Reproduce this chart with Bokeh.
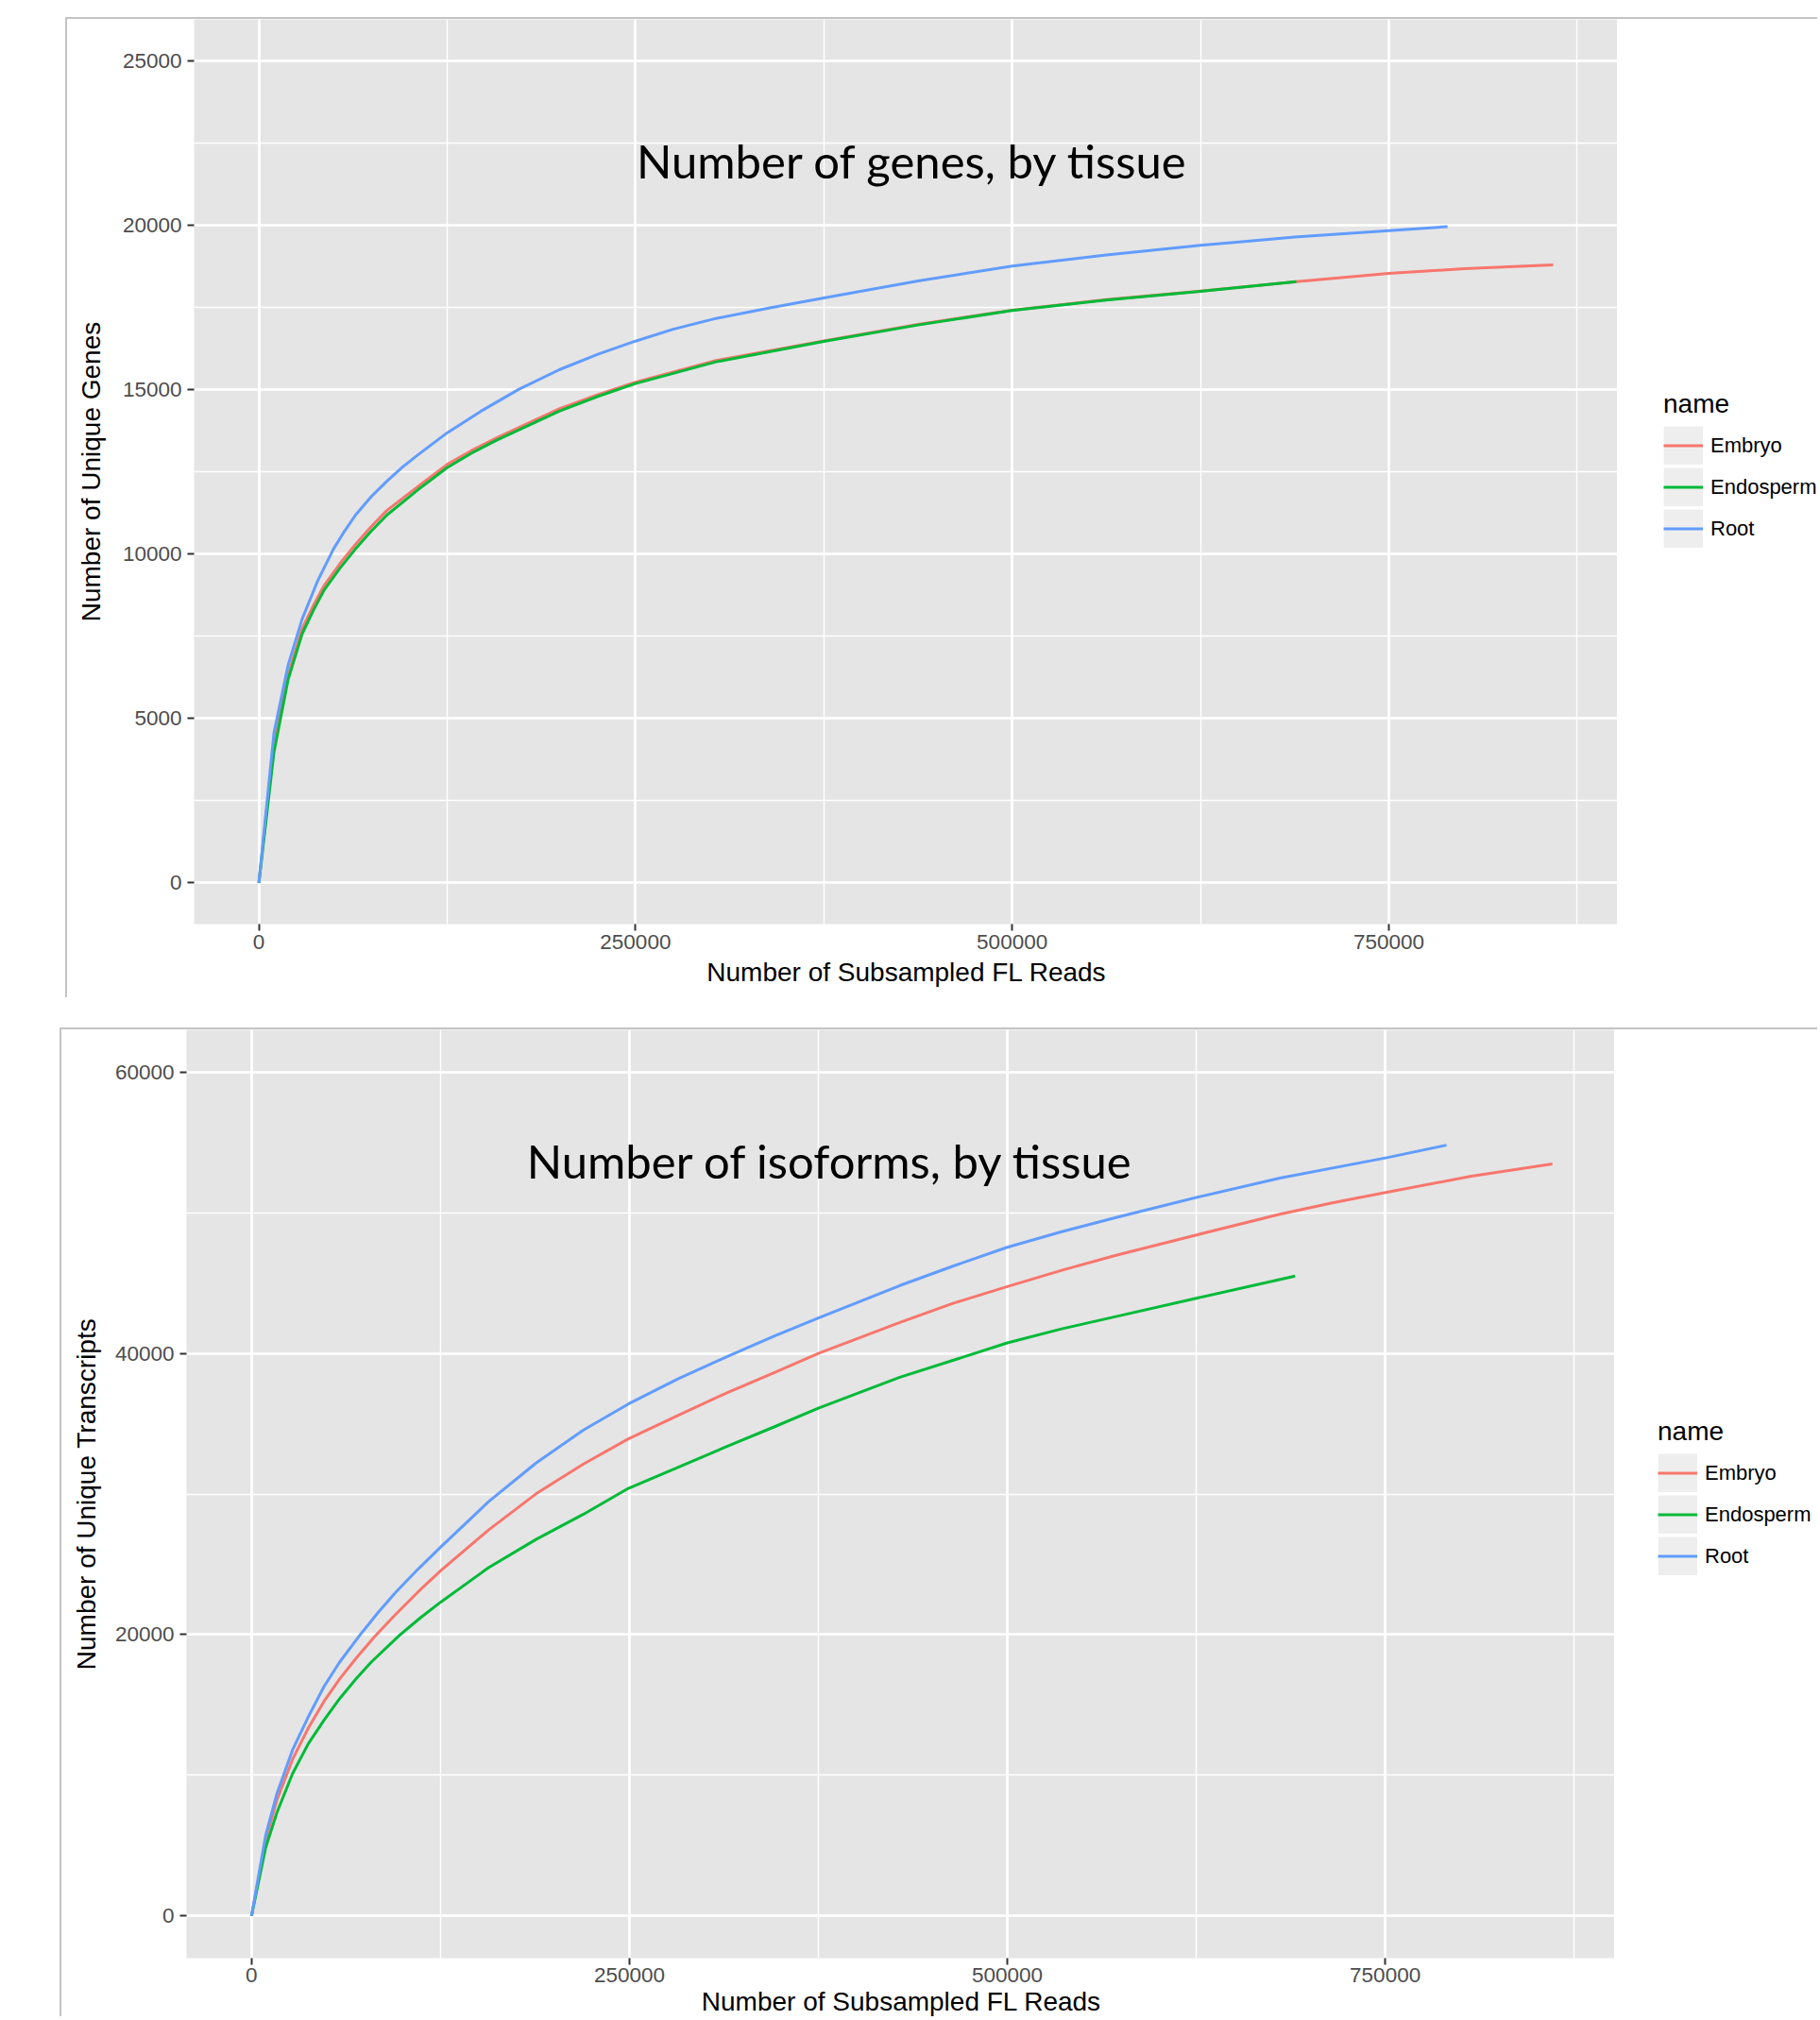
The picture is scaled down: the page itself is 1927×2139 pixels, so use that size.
from bokeh.plotting import figure
from bokeh.models import (Range1d, SingleIntervalTicker, Legend, LegendItem,
                          Label, BasicTickFormatter)
from bokeh.layouts import column, row
from bokeh.embed import file_html
from bokeh.resources import INLINE

series_names = ["Embryo", "Endosperm", "Root"]
series_colors = ["#F8766D", "#00BA38", "#619CFF"]

# ---------- Number of genes (top) ----------
genes_embryo_x = [0, 10000, 19400, 28700, 36000, 43300, 53700, 64100, 74500, 84900,
                  105800, 124900, 141000, 157800, 199400, 225000, 250000, 303500, 375000,
                  437500, 500000, 562500, 625000, 688600, 750000, 800000, 859100]
genes_embryo_y = [0, 4270, 6320, 7720, 8420, 9040, 9700, 10290, 10830, 11320,
                  12060, 12720, 13140, 13530, 14410, 14840, 15220, 15880, 16480,
                  16980, 17410, 17730, 17990, 18280, 18530, 18670, 18790]
genes_endosperm_x = [0, 10000, 19400, 28700, 36000, 43300, 53700, 64100, 74500, 84900,
                     105800, 124900, 141000, 157800, 199400, 225000, 250000, 303500, 375000,
                     437500, 500000, 562500, 625000, 688600]
genes_endosperm_y = [0, 3970, 6180, 7570, 8270, 8900, 9560, 10150, 10690, 11180,
                     11960, 12620, 13060, 13460, 14340, 14790, 15180, 15840, 16460,
                     16960, 17400, 17720, 17980, 18280]
genes_root_x = [0, 10000, 19400, 28700, 39100, 49500, 56800, 64100, 74500, 84900,
                95300, 105800, 124900, 147400, 172400, 199400, 225000, 250000, 275000,
                303500, 340000, 375000, 437500, 500000, 562500, 625000, 687500, 750000,
                789000]
genes_root_y = [0, 4560, 6620, 8020, 9190, 10150, 10690, 11180, 11740, 12210,
                12640, 13020, 13680, 14340, 15000, 15600, 16070, 16470, 16830,
                17160, 17490, 17780, 18300, 18750, 19090, 19380, 19630, 19830,
                19950]

# ---------- Number of isoforms (bottom) ----------
iso_embryo_x = [0, 9400, 16700, 27100, 37500, 47900, 58300, 69800, 81300, 95000,
                110000, 125000, 156800, 188200, 219600, 249300, 282400, 313800, 345300,
                375000, 428900, 464000, 500000, 536000, 572500, 626400, 680300, 715000,
                751100, 806000, 860600]
iso_embryo_y = [0, 5420, 8210, 11120, 13350, 15250, 16850, 18400, 19850, 21410,
                23020, 24540, 27440, 30010, 32130, 33920, 35600, 37160, 38610,
                40000, 42200, 43550, 44750, 45900, 46990, 48450, 49890, 50700,
                51450, 52570, 53460]
iso_endosperm_x = [0, 9400, 16700, 27100, 37500, 47900, 58300, 68700, 79200, 97900,
                   111400, 125000, 156800, 188200, 219600, 249300, 282400, 313800, 345300,
                   375000, 428900, 464000, 500000, 536000, 572500, 626400, 690400]
iso_endosperm_y = [0, 4870, 7320, 10110, 12230, 13910, 15450, 16800, 18050, 19950,
                   21170, 22300, 24760, 26770, 28560, 30400, 31900, 33350, 34750,
                   36100, 38300, 39500, 40740, 41740, 42630, 43950, 45490]
iso_root_x = [0, 9400, 16700, 27100, 37500, 47900, 58300, 72300, 83600, 95000,
              110000, 125000, 156800, 188200, 219600, 249300, 282400, 313800, 345300,
              375000, 428900, 464000, 500000, 536000, 572500, 626400, 680300, 751100,
              790600]
iso_root_y = [0, 5760, 8660, 11790, 14150, 16300, 18050, 20050, 21560, 22970,
              24640, 26210, 29450, 32200, 34550, 36400, 38200, 39730, 41200,
              42520, 44820, 46200, 47540, 48650, 49670, 51120, 52460, 53910,
              54800]

x_label = "Number of Subsampled FL Reads"
legend_title = "name"

AXIS_FONT = "Liberation Sans"
TITLE_FONT = "Lato"
BORDER = "2px solid #C4C4C4"


def build(width, height, mb_left, mb_bottom, y_range, y_interval, y_label,
          ylabel_standoff, xlabel_standoff, xtick_standoff, series, title_text, title_pos):
    p = figure(width=width, height=height,
               x_range=Range1d(-43000, 903000), y_range=Range1d(*y_range),
               output_backend="svg", toolbar_location=None,
               min_border_left=mb_left, min_border_right=0,
               min_border_top=0, min_border_bottom=mb_bottom)
    p.background_fill_color = "#E5E5E5"
    p.border_fill_color = "white"
    p.outline_line_color = None

    xt = SingleIntervalTicker(interval=250000, num_minor_ticks=2)
    yt = SingleIntervalTicker(interval=y_interval, num_minor_ticks=2)
    p.xaxis.ticker = xt
    p.xgrid.ticker = xt
    p.yaxis.ticker = yt
    p.ygrid.ticker = yt
    p.xaxis.formatter = BasicTickFormatter(use_scientific=False)
    p.yaxis.formatter = BasicTickFormatter(use_scientific=False)

    for g in (p.xgrid, p.ygrid):
        g.grid_line_color = "white"
        g.grid_line_width = 2.7
        g.minor_grid_line_color = "white"
        g.minor_grid_line_width = 1.4

    for ax in (p.xaxis, p.yaxis):
        ax.axis_line_color = None
        ax.major_tick_line_color = "#333333"
        ax.major_tick_line_width = 2
        ax.major_tick_in = 0
        ax.major_tick_out = 7
        ax.minor_tick_line_color = None
        ax.major_label_text_font = AXIS_FONT
        ax.major_label_text_font_size = "22.5px"
        ax.major_label_text_color = "#4D4D4D"
        ax.axis_label_text_font = AXIS_FONT
        ax.axis_label_text_font_size = "28px"
        ax.axis_label_text_font_style = "normal"
        ax.axis_label_text_color = "black"

    p.xaxis.axis_label = x_label
    p.xaxis.major_label_standoff = xtick_standoff
    p.xaxis.axis_label_standoff = xlabel_standoff
    p.yaxis.axis_label = y_label
    p.yaxis.major_label_standoff = 6
    p.yaxis.axis_label_standoff = ylabel_standoff

    for (xs, ys), color in zip(series, series_colors):
        p.line(xs, ys, line_color=color, line_width=3, line_join="round")

    p.add_layout(Label(x=title_pos[0], y=title_pos[1], text=title_text,
                       text_align="center", text_baseline="alphabetic",
                       text_font=TITLE_FONT, text_font_size="49px",
                       text_color="black"))
    return p


def build_legend(width, height, loc):
    lf = figure(width=width, height=height, x_range=Range1d(0, 1), y_range=Range1d(0, 1),
                x_axis_type=None, y_axis_type=None, output_backend="svg",
                toolbar_location=None, min_border=0)
    lf.outline_line_color = None
    lf.background_fill_color = "white"
    lf.border_fill_color = "white"
    nan = float("nan")
    key_box = lf.quad(left=[nan], right=[nan], top=[nan], bottom=[nan],
                      fill_color="#EEEEEE", line_color="#EEEEEE", line_width=8,
                      line_join="miter")
    items = []
    for name, color in zip(series_names, series_colors):
        r = lf.line([nan], [nan], line_color=color, line_width=3)
        items.append(LegendItem(label=name, renderers=[key_box, r]))
    leg = Legend(items=items, title=legend_title, location=loc,
                 orientation="vertical", glyph_width=42, glyph_height=41,
                 label_height=41, spacing=3, padding=0, margin=0,
                 label_standoff=8, title_standoff=7,
                 border_line_color=None, background_fill_alpha=0,
                 label_text_font=AXIS_FONT, label_text_font_size="22px",
                 label_text_color="black",
                 title_text_font=AXIS_FONT, title_text_font_size="28px",
                 title_text_font_style="normal", title_text_color="black")
    lf.add_layout(leg)
    return lf


# top chart: canvas x 71..1714, y 20..1058 ; legend panel 1714..1926
p1 = build(1643, 1038, 134, 80, (-1250, 26250), 5000, "Number of Unique Genes", 15, 6, 4,
           [(genes_embryo_x, genes_embryo_y), (genes_endosperm_x, genes_endosperm_y),
            (genes_root_x, genes_root_y)],
           "Number of genes, by tissue", (434000, 21960))
p1.margin = (18, 0, 0, 69)
p1.styles = {"border-left": BORDER, "border-top": BORDER}
l1 = build_legend(212, 1038, (49, 398))
l1.margin = (18, 0, 0, 0)
l1.styles = {"border-top": BORDER}

# bottom chart: canvas x 65..1711, y 1092..2139 ; legend panel 1711..1926
p2 = build(1646, 1047, 132, 64, (-3000, 63000), 20000, "Number of Unique Transcripts", 12, 2, 3,
           [(iso_embryo_x, iso_embryo_y), (iso_endosperm_x, iso_endosperm_y),
            (iso_root_x, iso_root_y)],
           "Number of isoforms, by tissue", (383000, 53700))
p2.margin = (32, 0, 0, 63)
p2.styles = {"border-left": BORDER, "border-top": BORDER}
l2 = build_legend(215, 1047, (46, 405))
l2.margin = (32, 0, 0, 0)
l2.styles = {"border-top": BORDER}

layout = column(row(p1, l1), row(p2, l2))
open("out.html", "w").write(file_html(layout, INLINE))
